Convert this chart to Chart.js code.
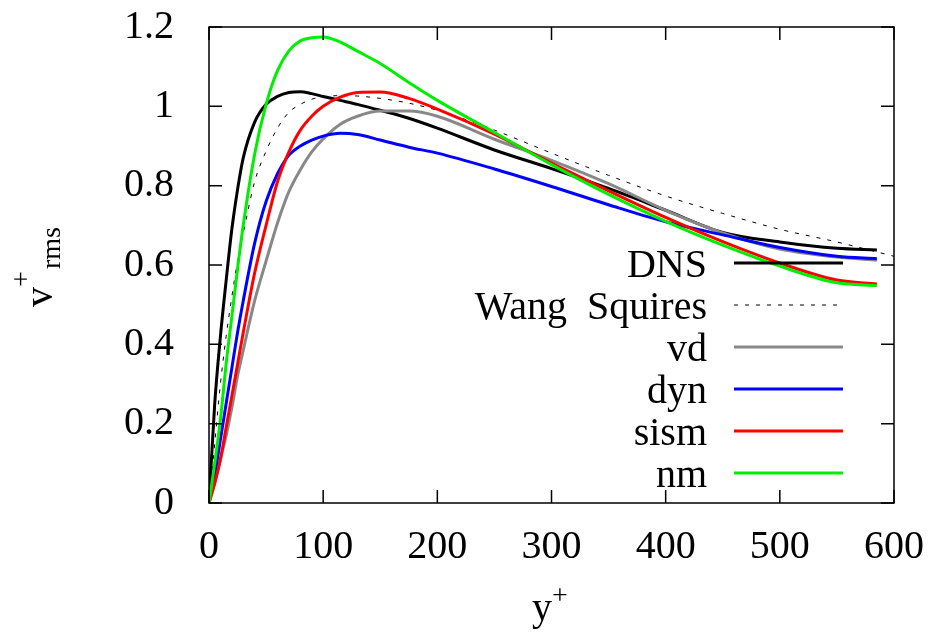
<!DOCTYPE html>
<html>
<head>
<meta charset="utf-8">
<script src="https://cdn.jsdelivr.net/npm/chart.js@4/dist/chart.umd.min.js"></script>
<style>
  body { margin: 0; background: #fff; }
  canvas { display: block; }
</style>
</head>
<body>
<canvas id="grafica" width="934" height="633"></canvas>
<script>
// y+ positions (wall units)
const yPlus = [0, 5, 10, 15, 20, 25, 30, 40, 50, 60, 70, 80, 90, 100, 115, 130, 150, 175, 200, 250, 300, 350, 400, 450, 500, 550, 585];
const yPlusWS = [0, 5, 10, 15, 20, 25, 30, 40, 50, 60, 70, 80, 90, 100, 115, 130, 150, 175, 200, 250, 300, 350, 400, 450, 500, 550, 600];

// v+rms profiles
const dns = [0, 0.25, 0.42, 0.56, 0.69, 0.79, 0.87, 0.96, 1.005, 1.025, 1.035, 1.037, 1.032, 1.025, 1.015, 1.005, 0.99, 0.97, 0.945, 0.89, 0.843, 0.793, 0.738, 0.682, 0.658, 0.642, 0.638];
const wangSquires = [0, 0.15, 0.30, 0.42, 0.52, 0.61, 0.68, 0.81, 0.887, 0.945, 0.985, 1.005, 1.018, 1.024, 1.027, 1.026, 1.02, 1.008, 0.99, 0.94, 0.882, 0.826, 0.774, 0.73, 0.69, 0.658, 0.622];
const vd = [0, 0.05, 0.11, 0.17, 0.24, 0.32, 0.385, 0.51, 0.61, 0.706, 0.785, 0.84, 0.885, 0.918, 0.955, 0.975, 0.988, 0.988, 0.975, 0.917, 0.864, 0.805, 0.738, 0.681, 0.64, 0.62, 0.612];
const dyn = [0, 0.07, 0.16, 0.25, 0.34, 0.43, 0.51, 0.655, 0.76, 0.83, 0.877, 0.90, 0.915, 0.925, 0.932, 0.929, 0.915, 0.897, 0.882, 0.842, 0.798, 0.752, 0.709, 0.676, 0.644, 0.622, 0.616];
const sism = [0, 0.05, 0.11, 0.19, 0.27, 0.35, 0.43, 0.58, 0.70, 0.81, 0.885, 0.94, 0.975, 1.0, 1.023, 1.035, 1.036, 1.02, 0.993, 0.93, 0.857, 0.787, 0.72, 0.659, 0.605, 0.562, 0.552];
const nm = [0, 0.1, 0.21, 0.35, 0.47, 0.59, 0.70, 0.88, 1.005, 1.09, 1.14, 1.165, 1.173, 1.175, 1.162, 1.139, 1.108, 1.06, 1.015, 0.934, 0.853, 0.778, 0.71, 0.65, 0.597, 0.555, 0.548];

const etiquetas = ['DNS', 'Wang  Squires', 'vd', 'dyn', 'sism', 'nm'];
const xTicks = [0, 100, 200, 300, 400, 500, 600];
const yTickLabels = ['0', '0.2', '0.4', '0.6', '0.8', '1', '1.2'];

const fuente = '"Liberation Serif", "Times New Roman", serif';

function puntos(xs, ys) {
    return xs.map((x, i) => ({ x: x, y: ys[i] }));
}

const series = [
    { label: etiquetas[0], data: puntos(yPlus, dns), color: '#000000', width: 3, dash: [] },
    { label: etiquetas[1], data: puntos(yPlusWS, wangSquires), color: '#000000', width: 1, dash: [4, 7] },
    { label: etiquetas[2], data: puntos(yPlus, vd), color: '#888888', width: 3, dash: [] },
    { label: etiquetas[3], data: puntos(yPlus, dyn), color: '#0000ff', width: 3, dash: [] },
    { label: etiquetas[4], data: puntos(yPlus, sism), color: '#ff0000', width: 3, dash: [] },
    { label: etiquetas[5], data: puntos(yPlus, nm), color: '#00ee00', width: 3, dash: [] }
];

const datasets = series.map((s, i) => {
    return {
        label: s.label,
        data: s.data,
        borderColor: s.color,
        borderWidth: s.width,
        borderDash: s.dash,
        showLine: true,
        pointRadius: 0,
        cubicInterpolationMode: 'monotone',
        fill: false,
        order: series.length - i
    };
});

// box, inward ticks, axis titles and the gnuplot style key
const decoracion = {
    id: 'decoracion',
    afterDraw(chart) {
        const ctx = chart.ctx;
        const a = chart.chartArea;
        const xs = chart.scales.x;
        const ys = chart.scales.y;
        ctx.save();
        ctx.strokeStyle = '#000';
        ctx.lineWidth = 1.5;
        ctx.setLineDash([]);
        ctx.strokeRect(a.left, a.top, a.right - a.left, a.bottom - a.top);

        ctx.beginPath();
        xTicks.forEach((v) => {
            const px = xs.getPixelForValue(v);
            ctx.moveTo(px, a.bottom); ctx.lineTo(px, a.bottom - 13);
            ctx.moveTo(px, a.top); ctx.lineTo(px, a.top + 13);
        });
        yTickLabels.forEach((t, i) => {
            const py = ys.getPixelForValue(i * 0.2);
            ctx.moveTo(a.left, py); ctx.lineTo(a.left + 13, py);
            ctx.moveTo(a.right, py); ctx.lineTo(a.right - 13, py);
        });
        ctx.stroke();

        // x title: y+
        ctx.fillStyle = '#000';
        ctx.textBaseline = 'alphabetic';
        ctx.textAlign = 'left';
        ctx.font = '40px ' + fuente;
        ctx.fillText('y', 532, 620);
        ctx.font = '28px ' + fuente;
        ctx.fillText('+', 552, 604);

        // y title: v+rms rotated
        ctx.save();
        ctx.translate(52, 307);
        ctx.rotate(-Math.PI / 2);
        ctx.font = '40px ' + fuente;
        ctx.fillText('v', 0, 0);
        ctx.font = '28px ' + fuente;
        ctx.fillText('+', 20, -22);
        ctx.fillText('rms', 38, 8);
        ctx.restore();

        // key
        ctx.font = '40px ' + fuente;
        ctx.textAlign = 'right';
        chart.data.datasets.forEach((d, i) => {
            const y = 263 + i * 42;
            ctx.fillStyle = '#000';
            ctx.fillText(d.label, 707, y + 14);
            ctx.beginPath();
            ctx.strokeStyle = d.borderColor;
            ctx.lineWidth = d.borderWidth;
            ctx.setLineDash(d.borderDash);
            ctx.moveTo(734, y);
            ctx.lineTo(843, y);
            ctx.stroke();
        });
        ctx.restore();
    }
};

const grafica = new Chart(document.getElementById('grafica'), {
    type: 'scatter',
    data: { datasets },
    options: {
        responsive: false,
        animation: false,
        layout: { padding: { left: 0, top: 27, right: 40, bottom: 0 } },
        plugins: {
            legend: { display: false },
            tooltip: { enabled: false }
        },
        scales: {
            x: {
                type: 'linear',
                min: 0,
                max: 600,
                grid: { display: false },
                border: { display: false },
                afterFit: (scale) => {
                    scale.height = 130;
                    scale.paddingLeft = 0;
                    scale.paddingRight = 0;
                },
                ticks: {
                    stepSize: 100,
                    color: '#000',
                    padding: 12,
                    maxRotation: 0,
                    font: { family: fuente, size: 40 }
                }
            },
            y: {
                type: 'linear',
                min: 0,
                max: 1.2,
                grid: { display: false },
                border: { display: false },
                afterFit: (scale) => {
                    scale.width = 209;
                    scale.paddingTop = 0;
                    scale.paddingBottom = 0;
                },
                ticks: {
                    stepSize: 0.2,
                    color: '#000',
                    padding: 27,
                    font: { family: fuente, size: 40 },
                    callback: (v) => yTickLabels[Math.round(v / 0.2)]
                }
            }
        }
    },
    plugins: [decoracion]
});
</script>
</body>
</html>
